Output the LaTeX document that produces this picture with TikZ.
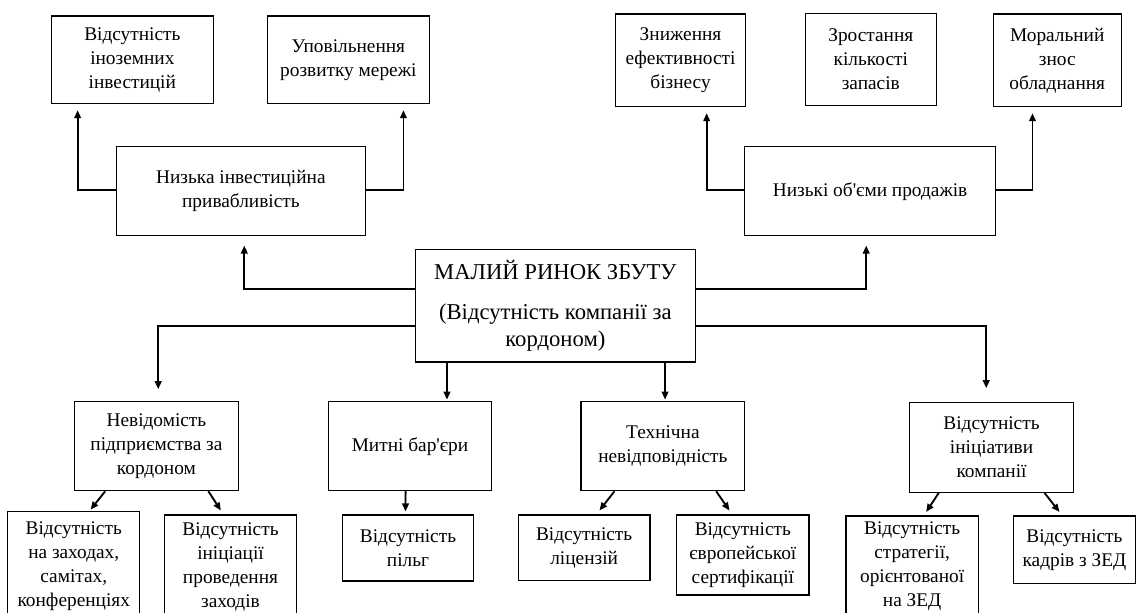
\documentclass[tikz,border=0pt]{standalone}
\usepackage{fontspec}
\setmainfont{Liberation Serif}
\newfontfamily\plainserif{Liberation Serif}[Ligatures=TeXOff]
\newcommand{\apos}{{\plainserif'}}
\usetikzlibrary{calc,arrows.meta}
\begin{document}
\begin{tikzpicture}[x=0.75pt,y=-0.75pt,
  wh/.style 2 args={minimum width=#1*0.75pt,minimum height=#2*0.75pt},
  box/.style={draw,line width=0.8pt,inner sep=2pt,align=center,
    font=\fontsize{14.5pt}{18pt}\selectfont},
  mainbox/.style={box,font=\fontsize{17pt}{20pt}\selectfont},
  arr/.style={line width=1.4pt,-{Triangle[length=6pt,width=5pt]}}]
\useasboundingbox (0,0) rectangle (1137,612);
% top row
\node[box,wh={162.5}{87.7}] (foreign) at (132.35,59.85) {Відсутність\\іноземних\\інвестицій};
\node[box,wh={162.5}{87.7}] (slow) at (348.35,59.85) {Уповільнення\\розвитку мережі};
\node[box,wh={130.7}{92.7}] (eff) at (680.55,60.35) {Зниження\\ефективності\\бізнесу};
\node[box,wh={130.6}{92.4}] (stock) at (870.8,59.5) {Зростання\\кількості\\запасів};
\node[box,wh={128.1}{92.7}] (moral) at (1057.25,60.35) {Моральний\\знос\\обладнання};
% second row
\node[box,wh={249}{89.4}] (low) at (240.9,191) {Низька інвестиційна\\привабливість};
\node[box,wh={250.6}{89}] (sales) at (870.1,191.2) {Низькі об\apos єми продажів};
% main
\node[mainbox,wh={279.7}{112.7}] (main) at (555.35,305.65) {МАЛИЙ РИНОК ЗБУТУ\\[10pt](Відсутність компанії за\\кордоном)};
% third row
\node[box,wh={163.6}{89}] (unk) at (156.4,446.2) {Невідомість\\підприємства за\\кордоном};
\node[box,wh={163.6}{89}] (customs) at (410,446.2) {Митні бар\apos єри};
\node[box,wh={163.8}{89}] (tech) at (662.9,446.2) {Технічна\\невідповідність};
\node[box,wh={163.8}{89.6}] (init) at (991.5,447.5) {Відсутність\\ініціативи\\компанії};
% bottom row
\node[box,wh={131.7}{108.6}] (events) at (73.75,566) {Відсутність\\на заходах,\\самітах,\\конференціях};
\node[box,wh={131.8}{103.4}] (initiation) at (230.5,566.7) {Відсутність\\ініціації\\проведення\\заходів};
\node[box,wh={131.1}{66}] (benefits) at (408,548) {Відсутність\\пільг};
\node[box,wh={131.7}{65.7}] (lic) at (584.15,547.85) {Відсутність\\ліцензій};
\node[box,wh={132.3}{80}] (euro) at (742.85,555) {Відсутність\\європейської\\сертифікації};
\node[box,wh={132.3}{100}] (strat) at (912.15,566) {Відсутність\\стратегії,\\орієнтованої\\на ЗЕД};
\node[box,wh={122.2}{67.3}] (staff) at (1074.4,549.65) {Відсутність\\кадрів з ЗЕД};
% connectors up
\draw[arr] ($(main.west)+(0,-17)$) -| ($(low.south)+(3.4,9.3)$);
\draw[arr] ($(main.east)+(0,-17)$) -| ($(sales.south)+(-3.9,9.3)$);
\draw[arr] ($(low.west)+(0,-1)$) -| ($(foreign.south west)+(27.1,6)$);
\draw[arr] ($(low.east)+(0,-1)$) -| ($(slow.south east)+(-26.7,6)$);
\draw[arr] ($(sales.west)+(0,-1)$) -| ($(eff.south west)+(92,6)$);
\draw[arr] ($(sales.east)+(0,-1)$) -| ($(moral.south west)+(39.8,6)$);
% connectors down
\draw[arr] ($(main.west)+(0,20.35)$) -| ($(unk.north)+(1.8,-12)$);
\draw[arr] ($(main.east)+(0,20.35)$) -| ($(init.north)+(-5.3,-14)$);
\draw[arr] ($(main.south west)+(32,0)$) -- ($(customs.north west)+(119.3,-1.5)$);
\draw[arr] ($(main.south west)+(250.1,0)$) -- ($(tech.north west)+(84.6,-1.5)$);
% bottom connectors
\draw[arr] ($(unk.south west)+(31.1,0)$) -- ($(events.north west)+(83.2,-1.5)$);
\draw[arr] ($(unk.south west)+(134.3,0)$) -- ($(initiation.north west)+(56.8,-4)$);
\draw[arr] ($(customs.south west)+(77.9,0)$) -- ($(benefits.north west)+(63.6,-3)$);
\draw[arr] ($(tech.south west)+(34,0)$) -- ($(lic.north west)+(81.7,-4)$);
\draw[arr] ($(tech.south west)+(135.7,0)$) -- ($(euro.north west)+(53.3,-4)$);
\draw[arr] ($(init.south west)+(29.7,0)$) -- ($(strat.north west)+(80.7,-3.5)$);
\draw[arr] ($(init.south west)+(135.4,0)$) -- ($(staff.north west)+(46.7,-3.5)$);
\end{tikzpicture}
\end{document}
